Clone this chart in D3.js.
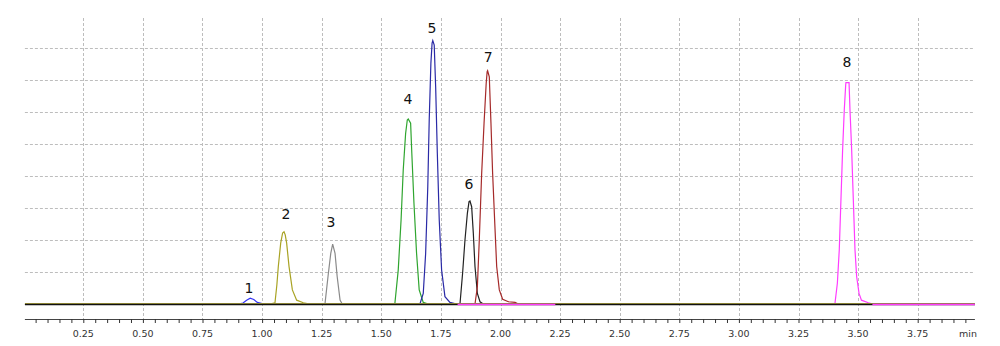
<!DOCTYPE html>
<html>
<head>
<meta charset="utf-8">
<script src="https://cdn.jsdelivr.net/npm/d3@7"></script>
<style>
  body { margin: 0; background: #fff; }
  svg { display: block; }
</style>
</head>
<body>
<div class="svgWrapper"></div>
<script>
// Data (time in min, response in grid units) //
const peakNames = ["1", "2", "3", "4", "5", "6", "7", "8"];
const peakColors = ["#3434f4", "#a9a324", "#8a8a8a", "#2fa52f", "#2a2aa6", "#222222", "#a52a2a", "#ff3cff"];

const trace1 = [[0.90, 0], [0.92, 0.03], [0.935, 0.12], [0.95, 0.18], [0.965, 0.14], [0.98, 0.05], [1.0, 0.01], [1.02, 0]];
const trace2 = [[1.033, 0], [1.054, 0.04], [1.062, 0.6], [1.068, 1.17], [1.078, 1.9], [1.086, 2.22], [1.092, 2.26], [1.097, 2.16], [1.103, 1.9], [1.113, 1.17], [1.127, 0.44], [1.145, 0.12], [1.173, 0.04], [1.20, 0]];
const trace3 = [[1.255, 0], [1.264, 0.02], [1.278, 0.96], [1.288, 1.58], [1.296, 1.87], [1.306, 1.58], [1.315, 0.85], [1.327, 0.12], [1.336, 0]];
const trace4 = [[1.55, 0], [1.557, 0.02], [1.571, 1.06], [1.583, 2.63], [1.592, 4.19], [1.602, 5.33], [1.609, 5.75], [1.613, 5.78], [1.623, 5.65], [1.628, 4.71], [1.637, 3.15], [1.648, 1.58], [1.659, 0.44], [1.676, 0.05], [1.697, 0]];
const trace5 = [[1.662, 0], [1.676, 0.33], [1.686, 1.58], [1.695, 3.67], [1.701, 5.75], [1.708, 7.52], [1.713, 8.15], [1.716, 8.23], [1.722, 8.09], [1.728, 6.79], [1.735, 4.71], [1.743, 2.63], [1.753, 1.06], [1.767, 0.23], [1.788, 0.05], [1.816, 0]];
const trace6 = [[1.830, 0], [1.841, 0.96], [1.851, 2.0], [1.861, 2.83], [1.868, 3.2], [1.872, 3.22], [1.879, 3.04], [1.886, 2.21], [1.893, 1.17], [1.903, 0.33], [1.914, 0.07], [1.928, 0]];
const trace7 = [[1.893, 0], [1.903, 0.54], [1.911, 2.0], [1.921, 4.08], [1.931, 5.65], [1.940, 6.9], [1.944, 7.26], [1.946, 7.29], [1.953, 7.1], [1.960, 5.65], [1.967, 4.08], [1.976, 2.52], [1.984, 1.17], [1.995, 0.44], [2.009, 0.15], [2.033, 0.07], [2.061, 0.05], [2.075, 0]];
const trace8 = [[3.395, 0], [3.403, 0.02], [3.413, 0.65], [3.421, 1.69], [3.428, 3.25], [3.435, 4.81], [3.442, 6.06], [3.448, 6.85], [3.449, 6.92], [3.462, 6.92], [3.466, 6.06], [3.473, 4.81], [3.480, 3.25], [3.487, 1.69], [3.494, 0.85], [3.504, 0.33], [3.514, 0.12], [3.543, 0.04], [3.564, 0]];
const traces = [trace1, trace2, trace3, trace4, trace5, trace6, trace7, trace8];

// magenta run on the baseline
const magentaBase = [[1.82, 2.23], [3.56, 3.99]];

// peak label anchors
const labelTimes = [0.945, 1.100, 1.289, 1.612, 1.713, 1.868, 1.948, 3.453];
const labelLevels = [0.34, 2.66, 2.41, 6.25, 8.47, 3.59, 7.56, 7.41];

const tickLabels = ["0.25", "0.50", "0.75", "1.00", "1.25", "1.50", "1.75", "2.00", "2.25", "2.50", "2.75", "3.00", "3.25", "3.50", "3.75"];
const gridLevels = [1, 2, 3, 4, 5, 6, 7, 8];
const timeRange = [0.005, 3.99];

// Styles //
const svgStyles = { w: 1000, h: 346 };
const plot = { left: 23.7, right: 977.3, baseY: 304, topGridY: 48, gridTop: 18, axisY: 319 };

const svg = d3
  .select(".svgWrapper")
  .append("svg")
  .attr("width", svgStyles.w)
  .attr("height", svgStyles.h);

const xScale = d3.scaleLinear().domain([0, 4]).range([plot.left, plot.right]);
const yScale = d3.scaleLinear().domain([0, 8]).range([plot.baseY, plot.topGridY]);

// grid
const grid = svg.append("g").attr("class", "grid")
  .attr("stroke", "#bdbdbd")
  .attr("stroke-width", 1)
  .attr("stroke-dasharray", "3,2");

grid.selectAll(".hgrid")
  .data(gridLevels)
  .enter()
  .append("line")
  .attr("x1", xScale(timeRange[0]))
  .attr("x2", xScale(timeRange[1]))
  .attr("y1", d => Math.round(yScale(d)) + 0.5)
  .attr("y2", d => Math.round(yScale(d)) + 0.5);

grid.selectAll(".vgrid")
  .data(tickLabels)
  .enter()
  .append("line")
  .attr("x1", d => Math.round(xScale(+d)) + 0.5)
  .attr("x2", d => Math.round(xScale(+d)) + 0.5)
  .attr("y1", plot.gridTop)
  .attr("y2", plot.axisY);

// x axis
const xAxis = d3
  .axisBottom(xScale)
  .tickValues(d3.range(1, 80).map(i => i * 0.05))
  .tickSize(4)
  .tickSizeOuter(0)
  .tickFormat("");

const axisG = svg
  .append("g")
  .attr("id", "x-axis")
  .attr("transform", `translate(0, ${plot.axisY})`)
  .call(xAxis);

axisG.select(".domain")
  .attr("d", `M${xScale(timeRange[0])},0.5H${xScale(timeRange[1])}`)
  .attr("stroke", "#444");
axisG.selectAll(".tick line").attr("stroke", "#333");

svg.append("g")
  .selectAll("text")
  .data(tickLabels)
  .enter()
  .append("text")
  .attr("x", d => xScale(+d))
  .attr("y", 337)
  .attr("text-anchor", "middle")
  .style("font-family", "'DejaVu Sans', sans-serif")
  .style("font-size", "9.5px")
  .style("fill", "#333")
  .text(d => d);

svg.append("text")
  .attr("x", 968)
  .attr("y", 337)
  .attr("text-anchor", "middle")
  .style("font-family", "'DejaVu Sans', sans-serif")
  .style("font-size", "9.5px")
  .style("fill", "#333")
  .text("min");

// traces
const line = d3.line()
  .x(d => xScale(d[0]))
  .y(d => yScale(d[1]));

svg.append("g")
  .attr("class", "traces")
  .selectAll("path")
  .data(traces)
  .enter()
  .append("path")
  .attr("d", line)
  .attr("fill", "none")
  .attr("stroke", (d, i) => peakColors[i])
  .attr("stroke-width", 1.2);

// baseline
svg.append("line")
  .attr("x1", xScale(timeRange[0]))
  .attr("x2", xScale(timeRange[1]))
  .attr("y1", yScale(0) - 0.5)
  .attr("y2", yScale(0) - 0.5)
  .attr("stroke", "#b0a640")
  .attr("stroke-width", 1);

svg.append("line")
  .attr("x1", xScale(timeRange[0]))
  .attr("x2", xScale(timeRange[1]))
  .attr("y1", yScale(0) + 0.5)
  .attr("y2", yScale(0) + 0.5)
  .attr("stroke", "#111")
  .attr("stroke-width", 1.5);

svg.append("g")
  .selectAll("line")
  .data(magentaBase)
  .enter()
  .append("line")
  .attr("x1", d => xScale(d[0]))
  .attr("x2", d => xScale(d[1]))
  .attr("y1", yScale(0) + 0.5)
  .attr("y2", yScale(0) + 0.5)
  .attr("stroke", peakColors[7])
  .attr("stroke-width", 1.5);

// peak labels
svg.append("g")
  .selectAll("text")
  .data(peakNames)
  .enter()
  .append("text")
  .attr("x", (d, i) => xScale(labelTimes[i]))
  .attr("y", (d, i) => yScale(labelLevels[i]))
  .attr("text-anchor", "middle")
  .style("font-family", "'DejaVu Sans', sans-serif")
  .style("font-size", "14px")
  .style("fill", "#111")
  .text(d => d);
</script>
</body>
</html>
